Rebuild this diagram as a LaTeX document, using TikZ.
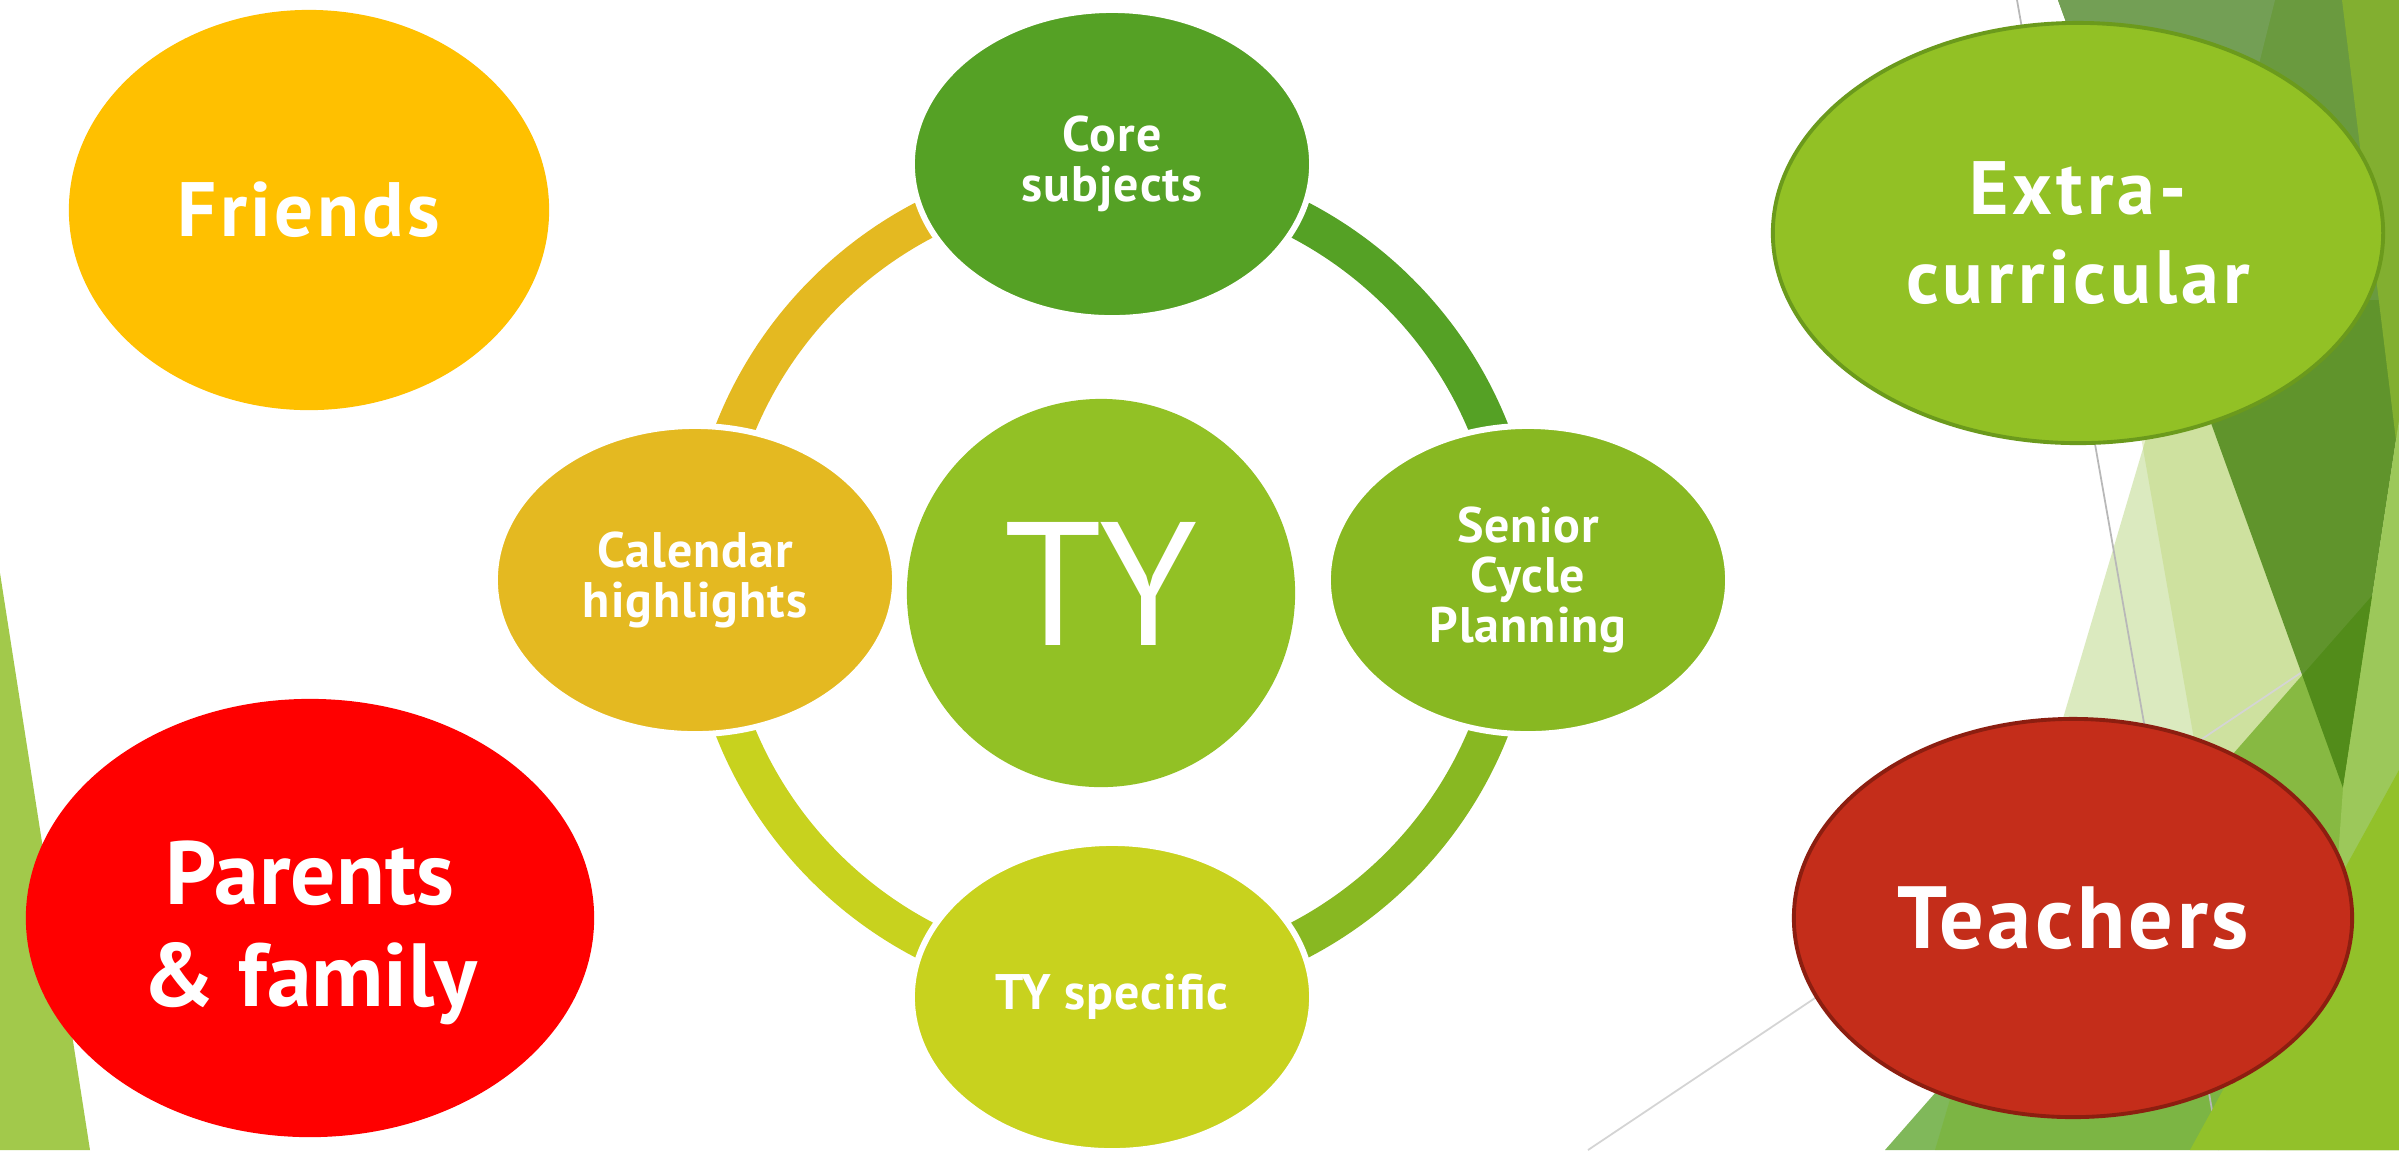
\documentclass[tikz,border=0pt]{standalone}
\usepackage{fontspec}
\setmainfont{PT Sans}
\usetikzlibrary{shapes.geometric}

\definecolor{friendsgold}{HTML}{FFC000}
\definecolor{parentsred}{HTML}{FF0000}
\definecolor{coregreen}{HTML}{55A125}
\definecolor{seniorgreen}{HTML}{88B822}
\definecolor{tyspecyellow}{HTML}{C8D21E}
\definecolor{calendargold}{HTML}{E4B921}
\definecolor{tygreen}{HTML}{92C125}
\definecolor{extrarim}{HTML}{6B9A1C}
\definecolor{teachersred}{HTML}{C42D1A}
\definecolor{teachersrim}{HTML}{8C1E10}
\definecolor{facetdark}{RGB}{69,129,16}
\definecolor{facetmuted}{HTML}{739F55}
\definecolor{facetbright}{HTML}{82AF30}
\definecolor{facetlight}{RGB}{115,175,3}
\definecolor{facetpale}{RGB}{168,199,64}
\definecolor{facetmid}{HTML}{80B85A}
\definecolor{facetstrip}{HTML}{9CC85A}
\definecolor{facetlime}{HTML}{92C12A}
\definecolor{facetleft}{HTML}{A2C94B}

\tikzset{
    blob/.style={ellipse, inner sep=0pt, text=white, align=center},
    ringnode/.style={blob, draw=white, line width=1.7pt, minimum width=4cm, minimum height=3.08cm,
        font=\fontsize{14.2}{14.2}\selectfont\bfseries\addfontfeature{LetterSpace=2}},
    ringarc/.style={line width=0.39cm},
    facetrule/.style={line width=0.5pt}
}

\begin{document}
\begin{tikzpicture}[x=0.01cm, y=-0.01cm]
    \useasboundingbox[fill=white] (0,0) rectangle (2399,1150);

    % background facets
    \fill[facetleft] (0,573) -- (90,1150) -- (0,1150) -- cycle;
    \fill[facetmid] (1885,1150) -- (2399,565) -- (2399,1150) -- cycle;
    \fill[facetlight, fill opacity=.25] (2187,300) -- (1935,1150) -- (2399,1150) -- (2399,300) -- cycle;
    \fill[facetpale, fill opacity=.25] (2117,300) -- (2266,1150) -- (2399,1150) -- (2399,300) -- cycle;
    \draw[facetrule, black!17] (1588,1150) -- (2305,670);
    \draw[facetrule, black!28] (2017,0) -- (2219,1150);
    \fill[facetdark, fill opacity=.8] (2058,0) -- (2399,0) -- (2399,420) -- (2343,788) -- cycle;
    \fill[facetmuted] (2058,0) -- (2275,0) -- (2240,140) -- (2109,140) -- cycle;
    \fill[facetbright] (2342,0) -- (2399,0) -- (2399,465) -- cycle;
    \fill[facetstrip] (2399,420) -- (2343,788) -- (2335,900) -- (2399,900) -- cycle;
    \fill[facetlime] (2190,1150) -- (2399,770) -- (2399,1150) -- cycle;

    % ring
    \coordinate (hub) at (1112,580);
    \draw[ringarc, coregreen] (hub) ++(-90:406) arc[start angle=-90, end angle=0, radius=406];
    \draw[ringarc, seniorgreen] (hub) ++(0:406) arc[start angle=0, end angle=90, radius=406];
    \draw[ringarc, tyspecyellow] (hub) ++(90:406) arc[start angle=90, end angle=180, radius=406];
    \draw[ringarc, calendargold] (hub) ++(180:406) arc[start angle=180, end angle=270, radius=406];

    \node[ringnode, fill=coregreen] (core) at (1112,164) {Core\\subjects};
    \node[ringnode, fill=seniorgreen] (senior) at (1528,580) {Senior\\Cycle\\Planning};
    \node[ringnode, fill=tyspecyellow] (tyspec) at (1112,997) {TY specific};
    \node[ringnode, fill=calendargold] (calendar) at (695,580) {Calendar\\highlights};
    \node[circle, fill=tygreen, minimum size=3.88cm, inner sep=0pt, text=white, text depth=0.19cm,
        font=\fontsize{50}{50}\selectfont] (ty) at (1101,593) {TY};

    % outer circles
    \node[blob, fill=friendsgold, minimum width=4.8cm, minimum height=4cm,
        font=\fontsize{21.9}{26}\selectfont\bfseries\addfontfeature{LetterSpace=4.5}] (friends) at (309,210) {Friends};
    \node[blob, fill=parentsred, minimum width=5.68cm, minimum height=4.38cm,
        font=\fontsize{25.5}{29.2}\selectfont\bfseries] (parents) at (310,918) {\rule{0pt}{0.93cm}Parents\\\&~family};
    \node[blob, fill=tygreen, draw=extrarim, line width=1.1pt, minimum width=6.1cm, minimum height=4.2cm,
        font=\fontsize{21.5}{25.2}\selectfont\bfseries\addfontfeature{LetterSpace=5.5}] (extra) at (2078,233) {Extra-\\curricular};
    \node[blob, fill=teachersred, draw=teachersrim, line width=1.1pt, minimum width=5.58cm, minimum height=3.98cm,
        font=\fontsize{25.1}{30}\selectfont\bfseries\addfontfeature{LetterSpace=4}] (teachers) at (2073,918) {Teachers};
\end{tikzpicture}
\end{document}
